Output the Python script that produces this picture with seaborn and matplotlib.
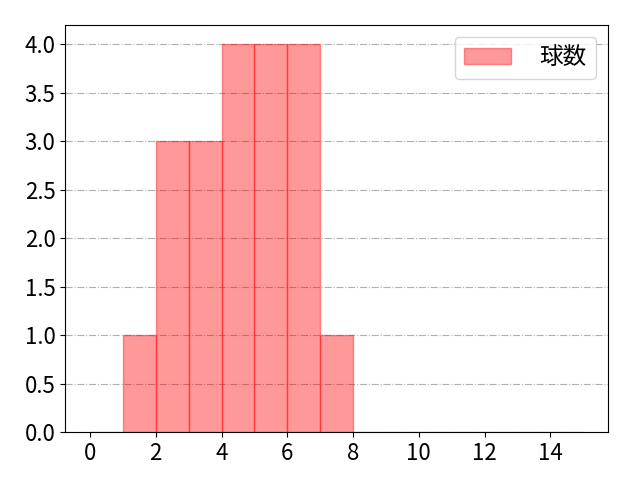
import numpy as np
import pandas as pd
import matplotlib
matplotlib.use("Agg")
import matplotlib.pyplot as plt
import seaborn as sns

plt.rcParams['font.family'] = ['Noto Sans CJK JP', 'DejaVu Sans']

# data: pitch-count values and their frequencies
values = [1, 2, 3, 4, 5, 6, 7]
counts = [1, 3, 3, 4, 4, 4, 1]
bin_edges = list(range(0, 16))
label = "球数"

df = pd.DataFrame({"value": np.array(values) + 0.5, "count": counts})

fig, ax = plt.subplots(figsize=(6.4, 4.8), dpi=100)
sns.histplot(data=df, x="value", weights="count", bins=bin_edges, ax=ax,
             color="red", alpha=0.4, edgecolor=(1, 0, 0, 0.4), linewidth=1,
             label=label, stat="count")
ax.set_xlim(-0.75, 15.75)
ax.set_ylim(0, 4.2)
ax.set_xlabel("")
ax.set_ylabel("")
ax.set_xticks(range(0, 15, 2))
ax.set_yticks(np.arange(0, 4.01, 0.5))
ax.tick_params(labelsize=16)
ax.grid(axis="y", linestyle="-.", color="#b0b0b0", linewidth=0.8)
ax.set_axisbelow(True)
ax.legend(loc="upper right", fontsize=17, handlelength=2.0, handletextpad=1.2)
fig.subplots_adjust(left=0.102, right=0.95, top=0.948, bottom=0.1)
fig.savefig("out.png", dpi=100)
